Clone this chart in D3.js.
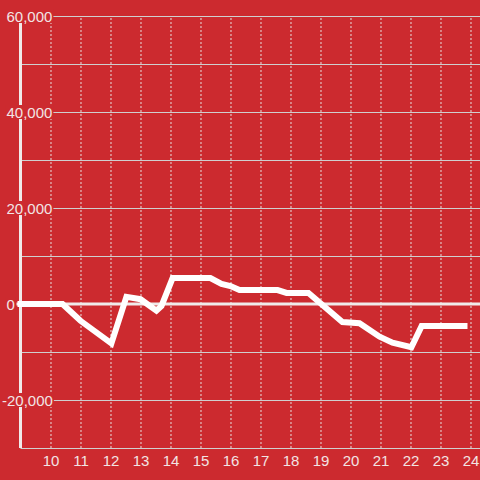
<!DOCTYPE html>
<html>
<head>
<meta charset="utf-8">
<script src="https://cdn.jsdelivr.net/npm/d3@7/dist/d3.min.js"></script>
<style>
  html, body { margin: 0; padding: 0; background: #cc2a2f; }
  svg { display: block; }
  text { font-family: "Liberation Sans", Arial, sans-serif; }
</style>
</head>
<body>
<svg id="chart" width="480" height="480"></svg>
<script>
// ---- data ----
const hours  = [9, 10.4, 11, 12.03, 12.53, 13.0, 13.53, 13.7, 14.07, 15.33, 15.7, 16.0, 16.3, 17.57, 17.87, 18.6, 19.73, 20.3, 20.97, 21.4, 22.03, 22.37, 23.8];
const values = [0, 0, -3500, -8200, 1500, 1000, -1400, -400, 5400, 5400, 4200, 3750, 2900, 2900, 2300, 2300, -3750, -4000, -6800, -8050, -9000, -4600, -4600];
const xTicks = [10, 11, 12, 13, 14, 15, 16, 17, 18, 19, 20, 21, 22, 23, 24];
const yGrid  = [-20000, -10000, 10000, 20000, 30000, 40000, 50000, 60000];
const yLabels = [-20000, 0, 20000, 40000, 60000];

const BG = "#cc2a2f";
const W = 480, H = 480;
const svg = d3.select("#chart");

const x = d3.scaleLinear().domain([9, 24.317]).range([20.5, 480]);
const y = d3.scaleLinear().domain([-30000, 60000]).range([448, 16]);

svg.append("rect").attr("width", W).attr("height", H).attr("fill", BG);

// horizontal grid lines
const gy = svg.append("g").attr("transform", `translate(${x.range()[0]},0)`)
  .call(d3.axisRight(y).tickValues(yGrid).tickSize(W - x.range()[0]).tickFormat(""));
gy.select(".domain").remove();
gy.selectAll(".tick line").attr("stroke", "#cfcfcf").attr("stroke-width", 1);

// vertical dashed grid
const gx = svg.append("g").attr("transform", `translate(0,${y.range()[0]})`)
  .call(d3.axisTop(x).tickValues(xTicks).tickSize(y.range()[0] - y.range()[1]).tickFormat(""));
gx.select(".domain").remove();
gx.selectAll(".tick line").attr("stroke", "#e6e0e0").attr("stroke-width", 1).attr("stroke-dasharray", "2,2");

// bottom axis line
svg.append("line")
  .attr("x1", x.range()[0]).attr("x2", W)
  .attr("y1", y(-30000) + 0.5).attr("y2", y(-30000) + 0.5)
  .attr("stroke", "#d0d0d0").attr("stroke-width", 1);

// x tick labels
const xl = svg.append("g").attr("transform", `translate(0,${y.range()[0]})`)
  .call(d3.axisBottom(x).tickValues(xTicks).tickSize(0).tickPadding(0).tickFormat(d3.format("d")));
xl.select(".domain").remove();
xl.selectAll(".tick text")
  .attr("dy", null).attr("y", 17.5)
  .attr("fill", "#f2e4e4").attr("font-size", 15).attr("font-family", "Liberation Sans, Arial, sans-serif");

// zero line
svg.append("line")
  .attr("x1", x.range()[0] - 4).attr("x2", W)
  .attr("y1", y(0)).attr("y2", y(0))
  .attr("stroke", "#f0eaea").attr("stroke-width", 3);

// y axis line
svg.append("line")
  .attr("x1", x.range()[0]).attr("x2", x.range()[0])
  .attr("y1", y.range()[1]).attr("y2", y.range()[0])
  .attr("stroke", "#f0eaea").attr("stroke-width", 3);

// y labels with background boxes
const fmt = d3.format(",");
const lab = svg.append("g");
yLabels.forEach(v => {
  const g = lab.append("g");
  const t = g.append("text")
    .attr("x", 6.5).attr("y", y(v) + 5.5)
    .attr("font-size", 15).attr("fill", "#f2e4e4")
    .text(fmt(v).replace("−", "-"));
  if (v < 0) {
    const neg = g.append("text").attr("font-size", 15).text("-").attr("opacity", 0);
    const w = neg.node().getComputedTextLength();
    neg.remove();
    t.attr("x", 6.5 - w + 0.5);
  }
  const b = t.node().getBBox();
  g.insert("rect", "text")
    .attr("x", b.x - 1).attr("y", y(v) - 7)
    .attr("width", b.width + 2).attr("height", 14)
    .attr("fill", BG);
});

// data line
const pts = hours.map((h, i) => [h, values[i]]);
svg.append("path")
  .datum(pts)
  .attr("d", d3.line().x(d => x(d[0])).y(d => y(d[1])))
  .attr("fill", "none").attr("stroke", "#ffffff")
  .attr("stroke-width", 6).attr("stroke-linejoin", "miter").attr("stroke-linecap", "square");
</script>
</body>
</html>
